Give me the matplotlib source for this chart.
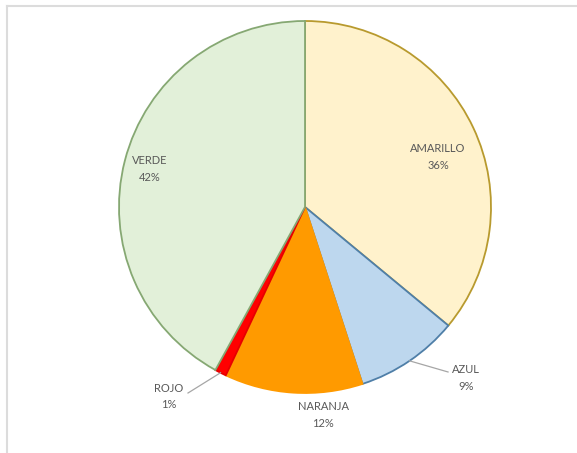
import numpy as np
import matplotlib
matplotlib.use("Agg")
import matplotlib.pyplot as plt
from matplotlib.lines import Line2D

plt.rcParams['font.family'] = ['Lato', 'DejaVu Sans']

# slice data, clockwise from 12 o'clock
categories = ["AMARILLO", "AZUL", "NARANJA", "ROJO", "VERDE"]
values = [36, 9, 12, 1, 42]
face_colors = ["#FFF2CC", "#BDD7EE", "#FF9A00", "#FF0000", "#E2F0D9"]
edge_colors = ["#B89A2E", "#4F7FA8", "#FF9A00", "#E60000", "#86A873"]

# label placement (x, y in pie units) and whether a leader line is drawn
label_pos = [(0.715, 0.269), (0.866, -0.919), (0.097, -1.118), (-0.731, -1.02), (-0.833, 0.204)]
leader_end = [None, (0.769, -0.887), None, (-0.629, -1.0), None]

fig = plt.figure(figsize=(5.77, 4.53), dpi=100)
fig.patch.set_facecolor("white")

# thin grey frame along the top and left
fig.add_artist(Line2D([7 / 577, 7 / 577], [0, 1 - 6 / 453], transform=fig.transFigure,
                      color="#DCDCDC", lw=1.5))
fig.add_artist(Line2D([7 / 577, 1], [1 - 6 / 453, 1 - 6 / 453], transform=fig.transFigure,
                      color="#DCDCDC", lw=1.5))

cx, cy, r = 305, 453 - 207, 186
ax = fig.add_axes([(cx - r) / 577, (cy - r) / 453, 2 * r / 577, 2 * r / 453])

wedges, _ = ax.pie(values, colors=face_colors, startangle=90, counterclock=False,
                   wedgeprops=dict(linewidth=1.3))
for w, ec in zip(wedges, edge_colors):
    w.set_edgecolor(ec)
ax.set_xlim(-1, 1)
ax.set_ylim(-1, 1)
ax.set_aspect("auto")
ax.axis("off")

total = sum(values)
for w, cat, v, pos, end in zip(wedges, categories, values, label_pos, leader_end):
    ax.text(pos[0], pos[1], f"{cat}\n{round(100 * v / total)}%", ha="center", va="center",
            fontsize=8, color="#595959", linespacing=1.6, clip_on=False)
    if end is not None:
        mid = np.deg2rad((w.theta1 + w.theta2) / 2)
        ax.plot([np.cos(mid), end[0]], [np.sin(mid), end[1]], color="#A6A6A6", lw=0.9,
                clip_on=False)

fig.savefig("out.png", dpi=100)
